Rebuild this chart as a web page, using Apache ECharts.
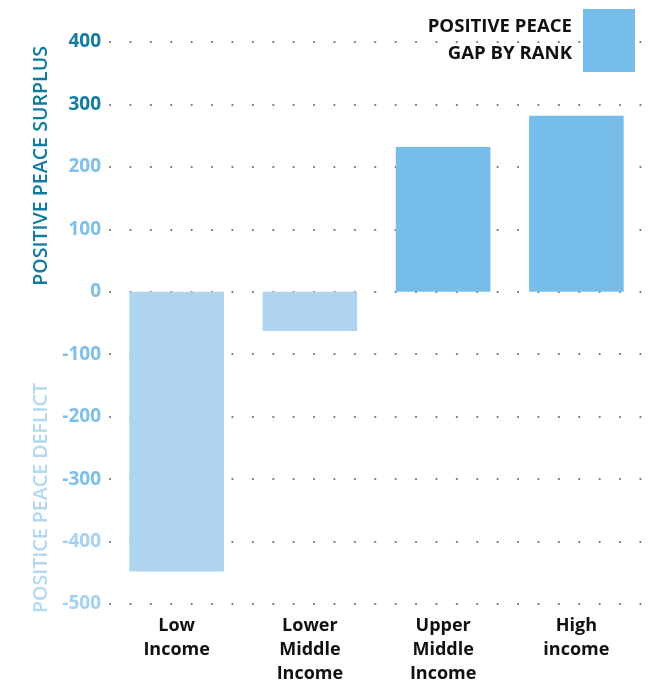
<!DOCTYPE html>
<html><head><meta charset="utf-8">
<script src="https://cdn.jsdelivr.net/npm/echarts@6/dist/echarts.min.js"></script>
<style>html,body{margin:0;padding:0;background:#fff}#c{width:651px;height:683px}</style>
</head><body><div id="c"></div>
<script>
const categories = ['Low\nIncome', 'Lower\nMiddle\nIncome', 'Upper\nMiddle\nIncome', 'High\nincome'];
const gapValues = [-448, -63, 232, 282];
const seriesName = 'POSITIVE PEACE\nGAP BY RANK';
const yTicks = { min: -500, max: 400, interval: 100 };

const posColor = '#76bee9', negColor = '#aed4f0';
const F = '"Open Sans", "Noto Sans", sans-serif';
const chart = echarts.init(document.getElementById('c'), null, { renderer: 'canvas' });
chart.setOption({
  animation: false,
  textStyle: { fontFamily: F },
  grid: { left: 110, right: 8, top: 42, bottom: 79, containLabel: false, outerBoundsMode: 'none' },
  legend: {
    data: [{ name: seriesName, itemStyle: { color: posColor } }],
    right: 11, top: 4, align: 'right', icon: 'rect',
    itemWidth: 52, itemHeight: 63, itemGap: 10,
    selectedMode: false,
    textStyle: { fontFamily: F, fontSize: 18.6, fontWeight: 'bold', color: '#111', lineHeight: 27, align: 'right', padding: [0, 6, 0, 0] }
  },
  xAxis: {
    type: 'category', data: categories,
    axisLine: { show: false }, axisTick: { show: false },
    axisLabel: { fontFamily: F, fontSize: 18, fontWeight: 'bold', color: '#111', lineHeight: 24, margin: 10 }
  },
  yAxis: {
    type: 'value', min: yTicks.min, max: yTicks.max, interval: yTicks.interval,
    axisLine: { show: false }, axisTick: { show: false },
    axisLabel: {
      fontFamily: F, fontSize: 19, fontWeight: 'bold', margin: 9,
      color: v => v >= 300 ? '#127ba0' : (v <= -400 ? '#a6d1f0' : '#7dc0ea')
    },
    splitLine: { show: true, lineStyle: { color: '#777', width: 2.2, type: [0.1, 20.3], cap: 'round' } }
  },
  graphic: [
    { type: 'text', left: 31, top: 46, rotation: Math.PI / 2,
      style: { text: 'POSITIVE PEACE SURPLUS', fill: '#127ba0', font: '600 19.6px ' + F } },
    { type: 'text', left: 31, top: 383, rotation: Math.PI / 2,
      style: { text: 'POSITICE PEACE DEFLICT', fill: '#b3d8f2', font: '600 19.6px ' + F } }
  ],
  series: [{
    name: seriesName, type: 'bar', data: gapValues,
    barWidth: '71%',
    itemStyle: { color: p => p.value < 0 ? negColor : posColor }
  }]
});
</script></body></html>
